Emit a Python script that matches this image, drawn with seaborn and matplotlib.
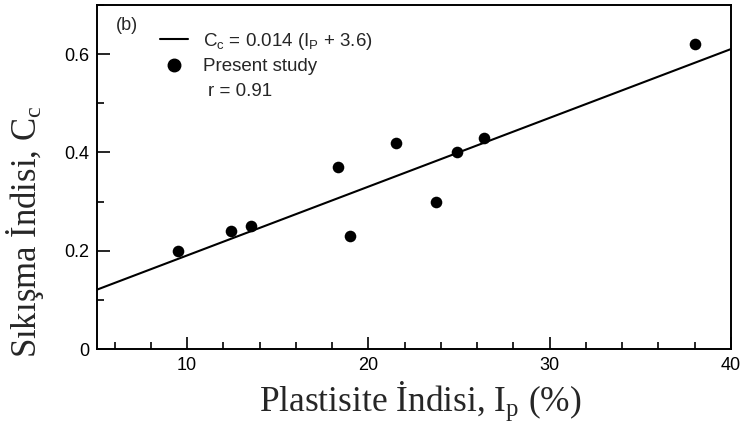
import numpy as np
import pandas as pd
import matplotlib
matplotlib.use("Agg")
import matplotlib.pyplot as plt
from matplotlib.lines import Line2D
from matplotlib.ticker import MultipleLocator
import seaborn as sns

# Data
plasticity_index = [9.5, 12.4, 13.5, 18.3, 19.0, 21.5, 23.7, 24.9, 26.4, 38.0]
compression_index = [0.20, 0.24, 0.25, 0.37, 0.23, 0.42, 0.30, 0.40, 0.43, 0.62]
fit_x = [5, 40]
fit_slope = 0.014
fit_offset = 3.6
fit_y = [fit_slope * (x + fit_offset) for x in fit_x]
x_ticks = [10, 20, 30, 40]
y_ticks = [0, 0.2, 0.4, 0.6]
y_tick_labels = ["0", "0.2", "0.4", "0.6"]

sns.set_style("ticks")
plt.rcParams["font.family"] = ["Liberation Sans", "DejaVu Sans"]
plt.rcParams["mathtext.fontset"] = "custom"
plt.rcParams["mathtext.rm"] = "Liberation Sans"

fig = plt.figure(figsize=(7.43, 4.26), dpi=100)
ax = fig.add_axes([96.5 / 743, 77 / 426, 634.5 / 743, 344 / 426])

pts = pd.DataFrame({"Ip": plasticity_index, "Cc": compression_index})
fit = pd.DataFrame({"Ip": fit_x, "Cc": fit_y})

sns.lineplot(data=fit, x="Ip", y="Cc", ax=ax, color="black", linewidth=1.5)
sns.scatterplot(data=pts, x="Ip", y="Cc", ax=ax, color="black", s=70,
                edgecolor="black", linewidth=0, zorder=3)

ax.set_xlim(5, 40)
ax.set_ylim(0, 0.7)
ax.set_xticks(x_ticks)
ax.set_xticklabels([str(t) for t in x_ticks])
ax.set_yticks(y_ticks)
ax.set_yticklabels(y_tick_labels)
ax.xaxis.set_minor_locator(MultipleLocator(2))
ax.yaxis.set_minor_locator(MultipleLocator(0.1))
ax.tick_params(which="both", direction="in", colors="black", labelsize=13,
               width=1.2, bottom=True, left=True, top=False, right=False)
ax.tick_params(which="major", length=9)
ax.tick_params(which="minor", length=5)
ax.tick_params(axis="x", pad=6)
ax.tick_params(axis="y", pad=5)
for sp in ax.spines.values():
    sp.set_visible(True)
    sp.set_color("black")
    sp.set_linewidth(1.4)

ax.set_xlabel(r"Plastisite İndisi, $\mathregular{I_p}$ (%)",
              family=["Liberation Serif", "DejaVu Serif"], fontsize=25.5)
ax.set_ylabel(r"Sıkışma İndisi, $\mathregular{C_c}$",
              family=["Liberation Serif", "DejaVu Serif"], fontsize=25)
ax.xaxis.set_label_coords(0.51, -0.088)
ax.yaxis.set_label_coords(-0.08, 0.34)

handles = [
    Line2D([], [], color="black", linewidth=1.5),
    Line2D([], [], color="black", marker="o", linestyle="none", markersize=9),
]
labels = [r"$\mathregular{C_c}$ = 0.014 ($\mathregular{I_P}$ + 3.6)", "Present study"]
leg = ax.legend(handles, labels, loc="upper left", bbox_to_anchor=(0.1, 0.925),
                frameon=False, fontsize=13.5, handlelength=1.5,
                handletextpad=0.8, labelspacing=0.35, borderpad=0,
                borderaxespad=0)

ax.text(0.175, 0.75, "r = 0.91", transform=ax.transAxes, fontsize=13.5,
        va="center", ha="left")
ax.text(0.03, 0.94, "(b)", transform=ax.transAxes, fontsize=13,
        va="center", ha="left")

fig.savefig("out.png", dpi=100)
